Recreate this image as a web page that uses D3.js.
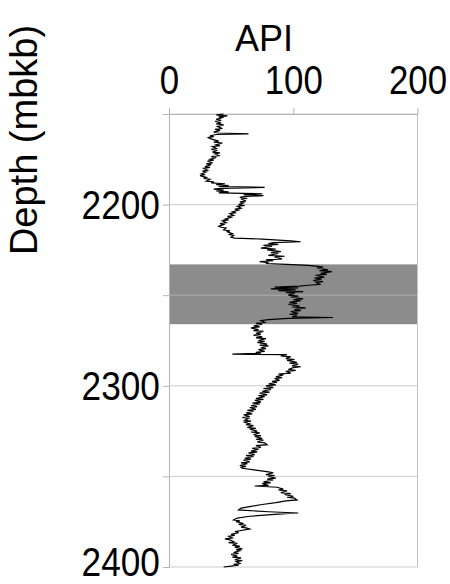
<!DOCTYPE html>
<html>

<head>
    <meta charset='utf-8'>
    <title>GR log</title>
    <script type='text/javascript' src='https://cdn.jsdelivr.net/npm/d3@7/dist/d3.min.js'></script>
    <style>
        body { margin: 0; background: #fff; }
        text { font-family: 'Liberation Sans', Arial, sans-serif; fill: #000; }
    </style>
</head>

<body>
    <svg width='450' height='584'></svg>
    <script type='text/javascript'>

        // [depth (mbkb), gamma ray (API)]
        const gammaRay = [
            [2150, 44], [2150.5, 38], [2151, 47], [2151.5, 40], [2152, 43], [2153, 38], [2153.5, 42], [2154, 37],
            [2155, 42], [2155.5, 38], [2156, 44], [2157, 39], [2158, 43], [2158.5, 37], [2159, 41], [2160, 36],
            [2160.5, 40], [2161, 64], [2161.3, 38], [2162, 33], [2162.5, 36], [2163, 31], [2164, 35], [2165, 40],
            [2165.5, 36], [2166, 43], [2167, 38], [2167.5, 41], [2168, 35], [2169, 38], [2169.5, 34], [2170, 39],
            [2171, 35], [2171.5, 41], [2172, 37], [2173, 40], [2173.5, 34], [2174, 38], [2175, 33], [2175.5, 36],
            [2176, 31], [2177, 35], [2177.5, 30], [2178, 34], [2179, 29], [2179.5, 33], [2180, 28], [2181, 31],
            [2181.5, 27], [2182, 30], [2183, 26], [2183.5, 29], [2184, 25], [2185, 30], [2185.5, 28], [2186, 33],
            [2187, 30], [2187.5, 36], [2188, 34], [2188.5, 45], [2189, 38], [2189.5, 48], [2190, 40], [2190.5, 77],
            [2191, 42], [2191.5, 36], [2192, 44], [2192.5, 38], [2193, 48], [2193.5, 40], [2194, 75], [2194.5, 60],
            [2195, 76], [2195.5, 62], [2196, 57], [2196.5, 63], [2197, 58], [2198, 62], [2198.5, 57], [2199, 60],
            [2200, 56], [2200.5, 61], [2201, 55], [2202, 58], [2202.5, 53], [2203, 56], [2204, 51], [2204.5, 54],
            [2205, 49], [2206, 52], [2206.5, 47], [2207, 50], [2208, 45], [2208.5, 48], [2209, 43], [2210, 46],
            [2210.5, 41], [2211, 44], [2212, 40], [2212.5, 42], [2213, 46], [2214, 44], [2214.5, 49], [2215, 47],
            [2216, 51], [2216.5, 48], [2217, 52], [2218, 50], [2218.5, 53], [2219, 75], [2220, 98], [2220.5, 106],
            [2221, 84], [2221.5, 80], [2222, 88], [2222.5, 76], [2223, 83], [2224, 74], [2224.5, 86], [2225, 79],
            [2226, 90], [2226.5, 82], [2227, 88], [2228, 80], [2228.5, 93], [2229, 85], [2230, 91], [2230.5, 78],
            [2231, 84], [2231.5, 73], [2232, 80], [2232.5, 78], [2233, 95], [2233.5, 112], [2234, 118], [2234.5, 124],
            [2235, 119], [2236, 128], [2236.5, 121], [2237, 131], [2238, 122], [2238.5, 127], [2239, 118], [2240, 125],
            [2240.5, 117], [2241, 123], [2242, 116], [2242.5, 124], [2243, 118], [2244, 122], [2244.5, 112], [2245, 105],
            [2245.5, 85], [2246, 104], [2246.5, 82], [2247, 102], [2247.5, 88], [2248, 108], [2248.5, 94], [2249, 101],
            [2250, 96], [2250.5, 104], [2251, 98], [2252, 108], [2252.5, 100], [2253, 106], [2254, 97], [2254.5, 103],
            [2255, 96], [2256, 105], [2256.5, 99], [2257, 110], [2258, 101], [2258.5, 106], [2259, 98], [2260, 104],
            [2260.5, 97], [2261, 103], [2262, 99], [2262.3, 132], [2262.8, 96], [2263.5, 80], [2264, 74], [2265, 77],
            [2265.5, 70], [2266, 75], [2267, 68], [2267.5, 73], [2268, 66], [2269, 72], [2269.5, 68], [2270, 76],
            [2271, 70], [2271.5, 74], [2272, 68], [2273, 75], [2273.5, 70], [2274, 78], [2275, 72], [2275.5, 77],
            [2276, 71], [2277, 79], [2277.5, 73], [2278, 80], [2279, 74], [2279.5, 78], [2280, 72], [2281, 77],
            [2281.5, 70], [2282, 74], [2282.5, 51], [2282.8, 95], [2283.5, 90], [2284, 98], [2285, 94], [2285.5, 101],
            [2286, 95], [2287, 103], [2287.5, 97], [2288, 104], [2289, 99], [2289.5, 106], [2290, 100], [2291, 96],
            [2291.5, 102], [2292, 94], [2293, 98], [2293.5, 88], [2294, 92], [2295, 86], [2295.5, 91], [2296, 85],
            [2297, 89], [2297.5, 83], [2298, 87], [2299, 80], [2299.5, 86], [2300, 78], [2301, 84], [2301.5, 76],
            [2302, 82], [2303, 75], [2303.5, 81], [2304, 73], [2305, 79], [2305.5, 72], [2306, 77], [2307, 70],
            [2307.5, 76], [2308, 69], [2309, 74], [2309.5, 67], [2310, 73], [2311, 66], [2311.5, 71], [2312, 65],
            [2313, 70], [2313.5, 63], [2314, 68], [2315, 62], [2315.5, 67], [2316, 60], [2317, 65], [2317.5, 59],
            [2318, 64], [2319, 61], [2319.5, 66], [2320, 60], [2321, 65], [2321.5, 62], [2322, 68], [2323, 63],
            [2323.5, 70], [2324, 65], [2325, 71], [2325.5, 66], [2326, 73], [2327, 68], [2327.5, 74], [2328, 69],
            [2329, 75], [2329.5, 70], [2330, 76], [2331, 71], [2331.5, 77], [2332.5, 79], [2333, 70], [2334, 74],
            [2334.5, 67], [2335, 72], [2336, 66], [2336.5, 71], [2337, 64], [2338, 69], [2338.5, 62], [2339, 68],
            [2340, 61], [2340.5, 66], [2341, 60], [2342, 65], [2342.5, 58], [2343, 63], [2344, 57], [2344.5, 62],
            [2345, 58], [2345.5, 59], [2346.5, 70], [2347.5, 80], [2348, 84], [2349, 78], [2349.5, 85], [2350, 80],
            [2351, 86], [2351.5, 79], [2352, 84], [2353, 76], [2353.5, 82], [2354, 75], [2355, 80], [2355.3, 69],
            [2356, 87], [2357, 92], [2357.5, 88], [2358, 95], [2359, 90], [2359.5, 98], [2360, 93], [2361, 100],
            [2361.5, 95], [2362, 101], [2363, 103], [2363.5, 94], [2364.5, 86], [2365.5, 75], [2366.5, 66], [2367.5, 58],
            [2368.5, 56], [2369.5, 80], [2370.2, 104], [2371, 85], [2372, 65], [2373, 55], [2374, 52], [2374.5, 57],
            [2375, 54], [2376, 60], [2376.5, 56], [2377, 62], [2378, 58], [2378.5, 63], [2379, 65], [2380, 57],
            [2380.5, 53], [2381, 56], [2382, 50], [2382.5, 53], [2383, 48], [2384, 51], [2384.5, 45], [2385, 49],
            [2386, 52], [2386.5, 48], [2387, 55], [2388, 51], [2388.5, 57], [2389, 53], [2390, 59], [2390.5, 54],
            [2391, 57], [2392, 52], [2392.5, 56], [2393, 50], [2394, 55], [2394.5, 51], [2395, 58], [2396, 53],
            [2396.5, 59], [2397, 54], [2398, 57], [2398.5, 52], [2399, 56], [2399.5, 50], [2400, 44]
        ]
        const zoneTop = 2233, zoneBase = 2266        // shaded interval
        const apiTicks = [0, 100, 200]
        const depthGrid = [2150, 2200, 2250, 2300, 2350, 2400]
        const depthLabels = [2200, 2300, 2400]

        const svg = d3.select('svg')
        const x = d3.scaleLinear().domain([0, 200]).range([169, 417.5])
        const y = d3.scaleLinear().domain([2150, 2400]).range([114, 567])

        // shaded zone
        svg.append('rect')
            .attr('x', x(0)).attr('width', x(200) - x(0))
            .attr('y', y(zoneTop)).attr('height', y(zoneBase) - y(zoneTop))
            .attr('fill', '#8c8c8c')

        // horizontal grid
        svg.append('g').selectAll('line').data(depthGrid).enter().append('line')
            .attr('x1', x(0)).attr('x2', x(200))
            .attr('y1', d => y(d)).attr('y2', d => y(d))
            .attr('stroke', '#bbb').attr('stroke-opacity', 0.75)
        // right frame
        svg.append('line')
            .attr('x1', x(200)).attr('x2', x(200)).attr('y1', y(2150)).attr('y2', y(2400))
            .attr('stroke', '#c4c4c4')

        // top axis
        const xAxis = svg.append('g').attr('transform', `translate(0,${y(2150)})`)
            .call(d3.axisTop(x).tickValues(apiTicks).tickSize(6).tickSizeOuter(0))
        xAxis.selectAll('path, line').attr('stroke', '#b4b4b4')
        xAxis.selectAll('text')
            .attr('font-size', 40).attr('y', -20)
            .attr('transform', 'scale(0.87,1)')
            .style('font-family', "'Liberation Sans', Arial, sans-serif")

        // left axis
        const yAxis = svg.append('g').attr('transform', `translate(${x(0)},0)`)
            .call(d3.axisLeft(y).tickValues(depthGrid).tickSize(6).tickSizeOuter(0)
                .tickFormat(d => depthLabels.includes(d) ? d : ''))
        yAxis.selectAll('path, line').attr('stroke', '#b4b4b4')
        yAxis.selectAll('text')
            .attr('font-size', 41).attr('x', -10.5)
            .attr('dy', d => d === 2400 ? '0.2em' : '0.34em')   // keep last label inside the frame
            .attr('transform', 'scale(0.86,1)')
            .style('font-family', "'Liberation Sans', Arial, sans-serif")

        // GR curve
        const line = d3.line().x(d => x(d[1])).y(d => y(d[0]))
        svg.append('path').datum(gammaRay)
            .attr('d', line)
            .attr('fill', 'none').attr('stroke', '#000').attr('stroke-width', 1.2)
            .attr('stroke-linejoin', 'miter')

        // titles
        svg.append('text').attr('x', 264).attr('y', 51)
            .attr('text-anchor', 'middle').attr('font-size', 36).text('API')
        svg.append('text')
            .attr('transform', 'translate(37,140) rotate(-90)')
            .attr('text-anchor', 'middle').attr('font-size', 38).text('Depth (mbkb)')
    </script>
</body>

</html>
